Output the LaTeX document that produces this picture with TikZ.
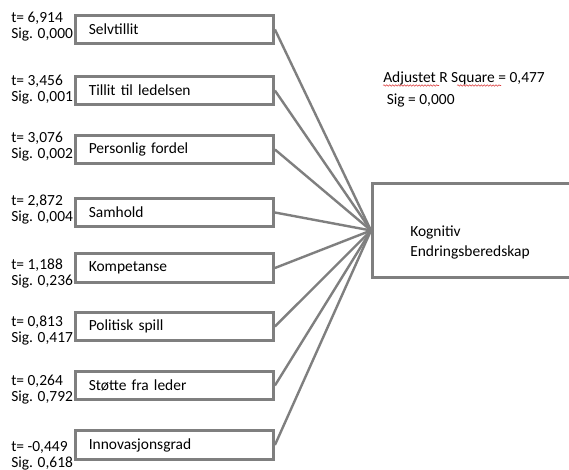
\documentclass[tikz,border=0pt]{standalone}
\usepackage{fontspec}
\setmainfont{Carlito}
\usetikzlibrary{decorations.pathmorphing}
\definecolor{boxgray}{RGB}{127,127,127}
\definecolor{spellred}{RGB}{220,60,60}

\begin{document}
\begin{tikzpicture}[x=0.75pt,y=-0.75pt,
  var/.style={draw=boxgray,line width=2.2pt,anchor=west,minimum height=21.5pt,text width=128.5pt,inner xsep=10pt,align=left,font=\fontsize{11.6pt}{13pt}\selectfont},
  stat/.style={anchor=west,align=left,inner sep=0pt,font=\fontsize{11.6pt}{12pt}\selectfont},
  link/.style={draw=boxgray,line width=1.8pt},
  wavy/.style={draw=spellred,line width=0.4pt,decorate,decoration={snake,amplitude=0.55pt,segment length=2.2pt}}]
\clip (0,0) rectangle (569,470);
\fill[white] (0,0) rectangle (569,470);
\node[var] (v1) at (74,29.5) {Selvtillit};
\node[var] (v2) at (74,90.5) {Tillit til ledelsen};
\node[var] (v3) at (74,149.5) {Personlig fordel};
\node[var] (v4) at (74,212.5) {Samhold};
\node[var] (v5) at (74,268) {Kompetanse};
\node[var] (v6) at (74,326.5) {Politisk spill};
\node[var] (v7) at (74,385.5) {Støtte fra leder};
\node[var] (v8) at (74,445) {Innovasjonsgrad};
\node[stat] (s1) at (11,26.5) {t= 6,914\\Sig. 0,000};
\node[stat] (s2) at (11,89.5) {t= 3,456\\Sig. 0,001};
\node[stat] (s3) at (11,146.5) {t= 3,076\\Sig. 0,002};
\node[stat] (s4) at (11,210) {t= 2,872\\Sig. 0,004};
\node[stat] (s5) at (11,274) {t= 1,188\\Sig. 0,236};
\node[stat] (s6) at (11,330.5) {t= 0,813\\Sig. 0,417};
\node[stat] (s7) at (11,389.5) {t= 0,264\\Sig. 0,792};
\node[stat] (s8) at (11,455.5) {t= -0,449\\Sig. 0,618};
\node[draw=boxgray,line width=2.2pt,anchor=west,minimum width=240pt,minimum height=70pt] (dep) at (371,230.5) {};
\node[stat,font=\fontsize{11.6pt}{15pt}\selectfont] (deptext) at (410,242) {Kognitiv\\Endringsberedskap};
\node[stat,font=\fontsize{11.6pt}{16.5pt}\selectfont] (rsq) at (383,89) {Adjustet R Square = 0,477\\\ Sig = 0,000};
\draw[wavy] (383,85.5) -- (439,85.5);
\draw[wavy] (457,85.5) -- (501,85.5);
\draw[link] (v1.east) -- (dep.west);
\draw[link] (v2.east) -- (dep.west);
\draw[link] (v3.east) -- (dep.west);
\draw[link] (v4.east) -- (dep.west);
\draw[link] (v5.east) -- (dep.west);
\draw[link] (v6.east) -- (dep.west);
\draw[link] (v7.east) -- (dep.west);
\draw[link] (v8.east) -- (dep.west);
\end{tikzpicture}
\end{document}
